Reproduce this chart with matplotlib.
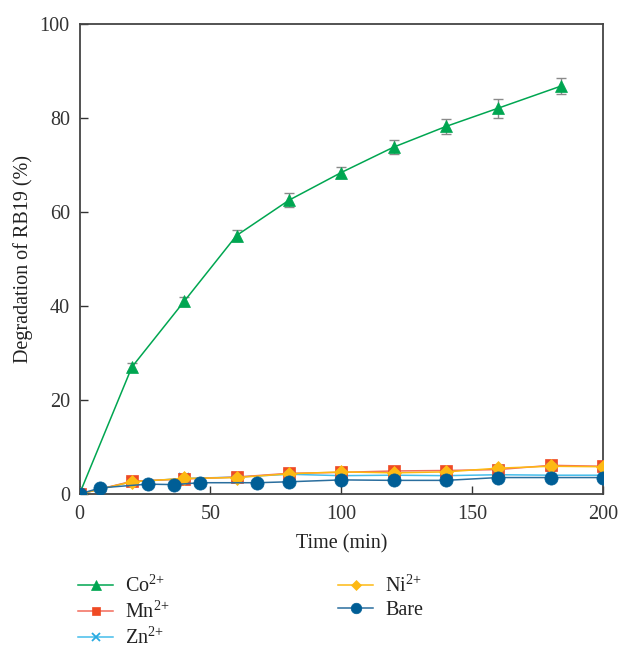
import matplotlib
matplotlib.use("Agg")
import matplotlib.pyplot as plt

plt.rcParams['font.family'] = ['Liberation Serif', 'DejaVu Serif']
plt.rcParams['mathtext.fontset'] = 'custom'
plt.rcParams['mathtext.rm'] = 'Liberation Serif'

# ---- data ----
time_co = [0, 20, 40, 60, 80, 100, 120, 140, 160, 184]
co = [0, 27.0, 41.0, 55.0, 62.5, 68.4, 73.8, 78.2, 82.1, 86.8]
co_err = [0, 0.8, 1.0, 1.2, 1.5, 1.1, 1.5, 1.6, 2.0, 1.7]

time_m = [0, 20, 40, 60, 80, 100, 120, 140, 160, 180, 200]
mn = [0, 2.7, 3.2, 3.6, 4.4, 4.6, 4.9, 5.0, 5.2, 6.1, 5.9]
mn_err = [0, 0.5, 0.6, 0.6, 0.6, 0.6, 0.7, 0.7, 0.8, 0.8, 1.0]
zn = [0, 2.6, 3.3, 3.6, 4.2, 3.9, 4.0, 3.9, 4.1, 4.0, 4.0]
zn_err = [0, 0.4, 0.4, 0.5, 0.5, 0.5, 0.5, 0.5, 0.5, 0.5, 0.5]
ni = [0, 2.6, 3.3, 3.5, 4.3, 4.7, 4.5, 4.7, 5.5, 5.9, 5.8]
ni_err = [0, 0.4, 0.5, 0.5, 0.5, 0.5, 0.5, 0.5, 0.6, 0.6, 0.6]
time_bare = [0, 8, 26, 36, 46, 68, 80, 100, 120, 140, 160, 180, 200]
bare = [0, 1.3, 2.1, 2.0, 2.4, 2.4, 2.6, 3.0, 2.9, 2.9, 3.5, 3.5, 3.5]
bare_err = [0, 0, 0, 0, 0, 0, 0.3, 0.4, 0.6, 0.4, 0.5, 0.5, 0.5]

labels = ["Co$^{\\mathregular{2{+}}}$", "Mn$^{\\mathregular{2{+}}}$", "Zn$^{\\mathregular{2{+}}}$",
          "Ni$^{\\mathregular{2{+}}}$", "Bare"]
xticks = [0, 50, 100, 150, 200]
yticks = [0, 20, 40, 60, 80, 100]

FS = 14.5

fig = plt.figure(figsize=(6.18, 6.48), dpi=100)
ax = fig.add_axes([79.5/618, 1-494/648, (603-79.5)/618, (494-24)/648])

ecol = '#8a8a8a'
series = [
    (time_co, co, co_err, '#00A651', '#00A651', '^', 9, labels[0], 2),
    (time_m, zn, zn_err, '#45BDEB', '#29ABE2', 'x', 7, labels[2], 3),
    (time_m, mn, mn_err, '#F26B5B', '#EF4A24', 's', 8, labels[1], 4),
    (time_m, ni, ni_err, '#FDB913', '#FDB913', 'D', 7, labels[3], 5),
    (time_bare, bare, bare_err, '#2A6E9E', '#005E96', 'o', 9.5, labels[4], 6),
]
handles = {}
for t, y, e, lc, mc, mk, ms, lab, z in series:
    ax.errorbar(t, y, yerr=e, fmt='none', ecolor=ecol, elinewidth=1.0,
                capsize=3.5, capthick=1.0, zorder=z - 0.5)
    h, = ax.plot(t, y, color=lc, lw=1.1, marker=mk, ms=ms, mfc=mc, mec=mc,
                 mew=1.3 if mk == 'x' else 0.5, label=lab, zorder=z)
    handles[lab] = h

ax.set_xlim(0, 200)
ax.set_ylim(0, 100)
ax.set_xticks(xticks)
ax.set_yticks(yticks)
ax.tick_params(direction='in', length=5.5, width=1.0, labelsize=FS,
               colors='#333333', pad=7)
ax.tick_params(axis='x', pad=8)
for s in ax.spines.values():
    s.set_color('#444444')
    s.set_linewidth(1.3)

ax.set_xlabel('Time (min)', fontsize=FS, color='#222222', labelpad=7)
ax.set_ylabel('Degradation of RB19 (%)', fontsize=FS, color='#222222', labelpad=5)

order = [labels[0], labels[1], labels[2], labels[3], labels[4]]
leg = fig.legend([handles[l] for l in order], order, loc='upper left',
                 bbox_to_anchor=(78/618, 1-575/648), ncol=2, frameon=False,
                 fontsize=FS, handlelength=1.75, handletextpad=0.6,
                 columnspacing=8.35, labelspacing=0.2, borderpad=0,
                 borderaxespad=0, markerscale=0.8)
for t in leg.get_texts():
    t.set_color('#222222')

fig.savefig('out.png', dpi=100)
